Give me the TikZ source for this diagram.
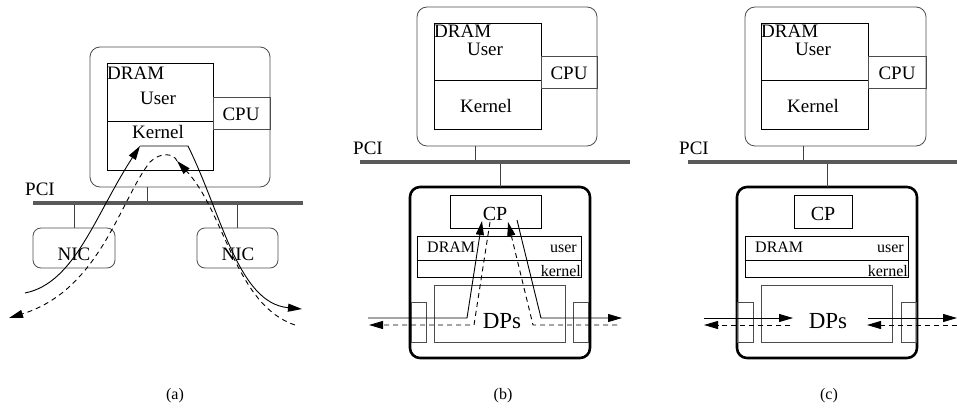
\documentclass[tikz,border=0pt]{standalone}
\usepackage{fontspec}
\setmainfont{Liberation Serif}
\usetikzlibrary{arrows.meta,fit}

\tikzset{
  box/.style={draw=black!70, line width=0.8pt, inner sep=0pt, outer sep=0pt},
  mem/.style={box, draw=black},
  host/.style={box, rounded corners=10pt},
  nic/.style={box, rounded corners=8pt},
  card/.style={draw=black, line width=2.6pt, rounded corners=10pt, inner sep=0pt, outer sep=0pt},
  txt/.style={inner sep=0pt, font=\fontsize{19}{22}\selectfont},
  small/.style={inner sep=0pt, font=\fontsize{16}{18}\selectfont},
  big/.style={inner sep=0pt, font=\fontsize{23}{26}\selectfont},
  bus/.style={line width=4pt, black!65},
  link/.style={line width=0.8pt, black!75},
  flow/.style={line width=0.9pt, -{Triangle[length=14pt,width=8pt]}},
  back/.style={flow, dash pattern=on 5pt off 4pt},
}

\begin{document}
\begin{tikzpicture}[x=1pt,y=-1pt]
  \useasboundingbox (0,0) rectangle (957,409);

  % (a) host with two NICs
  \node[host, fit={(90,47) (270,187)}] (hostA) {};
  \node[mem, fit={(107,63) (213,170)}] (dramA) {};
  \draw[mem] (107,121) -- (213,121);
  \node[box, fit={(213,97) (270,129)}] (cpuA) {};
  \node[txt, anchor=base west] (dramtA) at (107,80) {DRAM};
  \node[txt, anchor=base] (usertA) at (158,105) {User};
  \node[txt, anchor=base] (kerneltA) at (158,138) {Kernel};
  \node[txt, anchor=base] (cputA) at (241,121) {CPU};
  \node[nic, fit={(33,228) (115,268)}] (nicLA) {};
  \node[nic, fit={(197,228) (278,268)}] (nicRA) {};
  \node[txt, anchor=base] (nicLtA) at (74,260) {NIC};
  \node[txt, anchor=base] (nicRtA) at (238,260) {NIC};
  % PCI bus (a)
  \coordinate (pciA1) at (33,203);
  \coordinate (pciA2) at (303,203);
  \coordinate (tapA) at (147,203);
  \draw[link] (tapA) -- (tapA |- hostA.south);
  \draw[link] (nicLA.north) -- (nicLA.north |- pciA1);
  \draw[link] (nicRA.north) -- (nicRA.north |- pciA1);
  \draw[bus] (pciA1) -- (pciA2);
  \node[txt, anchor=base west] (pcitA) at (25,195) {PCI};
  % flows (a)
  \coordinate (inA) at (25,293);
  \coordinate (kinA) at (140,146);
  \coordinate (koutA) at (188,146);
  \coordinate (outA) at (302,309);
  \draw[flow] (inA) .. controls (75,283) and (95,215) .. (kinA);
  \draw[flow] (kinA) -- (koutA) .. controls (222,215) and (238,303) .. (outA);
  \coordinate (rinA) at (295,325);
  \coordinate (topA) at (177,161);
  \coordinate (routA) at (9,318);
  \draw[back] (rinA) .. controls (235,305) and (225,212) .. (topA);
  \draw[back] (topA) .. controls (174,153) and (160,152) .. (150,162)
    .. controls (120,200) and (100,290) .. (routA);

  % (b) host with programmable NIC
  \node[host, fit={(417,7) (597,146)}] (hostB) {};
  \node[mem, fit={(434,23) (541,129)}] (dramB) {};
  \draw[mem] (434,80) -- (541,80);
  \node[box, fit={(541,56) (597,88)}] (cpuB) {};
  \node[txt, anchor=base west] (dramtB) at (434,38) {DRAM};
  \node[txt, anchor=base] (usertB) at (485,56) {User};
  \node[txt, anchor=base] (kerneltB) at (486,113) {Kernel};
  \node[txt, anchor=base] (cputB) at (569,80) {CPU};
  \coordinate (pciB1) at (360,162);
  \coordinate (pciB2) at (630,162);
  \coordinate (tapB1) at (475,162);
  \coordinate (tapB2) at (500,162);
  \node[card, fit={(410,187) (590,358)}] (cardB) {};
  \draw[link] (tapB1) -- (tapB1 |- hostB.south);
  \draw[link] (tapB2) -- (tapB2 |- cardB.north);
  \draw[bus] (pciB1) -- (pciB2);
  \node[txt, anchor=base west] (pcitB) at (353,154) {PCI};
  \node[mem, fit={(450,195) (541,228)}] (cpB) {};
  \node[txt, font=\fontsize{20}{22}\selectfont, anchor=base] (cptB) at (495,220) {CP};
  \node[mem, fit={(417,236) (581,277)}] (nramB) {};
  \draw[mem] (417,260) -- (581,260);
  \node[small, anchor=base west] (nramtB) at (427,252) {DRAM};
  \node[small, anchor=base east] (nusertB) at (577,252) {user};
  \node[small, anchor=base east] (nkerneltB) at (581,276) {kernel};
  \node[box, fit={(434,285) (565,342)}] (dpB) {};
  \node[box, fit={(411,302) (426,342)}] (portLB) {};
  \node[box, fit={(573,302) (588,342)}] (portRB) {};
  \node[big, anchor=base] (dptB) at (502,328) {DPs};
  % flows (b)
  \coordinate (inB) at (368,318);
  \coordinate (outB) at (622,318);
  \coordinate (rinB) at (617,325);
  \coordinate (routB) at (369,325);
  \draw[flow] (inB) -- (467,318) -- (482,221);
  \draw[flow] (517,220) -- (541,318) -- (outB);
  \draw[back] (rinB) -- (533,325) -- (508,222);
  \draw[back] (490,222) -- (474,325) -- (routB);

  % (c) host with programmable NIC, data path only
  \node[host, fit={(745,7) (926,146)}] (hostC) {};
  \node[mem, fit={(761,23) (868,129)}] (dramC) {};
  \draw[mem] (761,80) -- (868,80);
  \node[box, fit={(868,56) (926,88)}] (cpuC) {};
  \node[txt, anchor=base west] (dramtC) at (761,38) {DRAM};
  \node[txt, anchor=base] (usertC) at (813,56) {User};
  \node[txt, anchor=base] (kerneltC) at (813,113) {Kernel};
  \node[txt, anchor=base] (cputC) at (897,80) {CPU};
  \coordinate (pciC1) at (688,162);
  \coordinate (pciC2) at (957,162);
  \coordinate (tapC1) at (803,162);
  \coordinate (tapC2) at (827,162);
  \node[card, fit={(737,187) (917,358)}] (cardC) {};
  \draw[link] (tapC1) -- (tapC1 |- hostC.south);
  \draw[link] (tapC2) -- (tapC2 |- cardC.north);
  \draw[bus] (pciC1) -- (pciC2);
  \node[txt, anchor=base west] (pcitC) at (679,154) {PCI};
  \node[mem, fit={(794,195) (852,228)}] (cpC) {};
  \node[txt, font=\fontsize{20}{22}\selectfont, anchor=base] (cptC) at (823,220) {CP};
  \node[mem, fit={(745,236) (908,277)}] (nramC) {};
  \draw[mem] (745,260) -- (908,260);
  \node[small, anchor=base west] (nramtC) at (755,252) {DRAM};
  \node[small, anchor=base east] (nusertC) at (904,252) {user};
  \node[small, anchor=base east] (nkerneltC) at (908,276) {kernel};
  \node[box, fit={(761,285) (892,342)}] (dpC) {};
  \node[box, fit={(737,302) (753,342)}] (portLC) {};
  \node[box, fit={(901,302) (916,342)}] (portRC) {};
  \node[big, anchor=base] (dptC) at (828,328) {DPs};
  % flows (c)
  \coordinate (inC) at (704,318);
  \coordinate (routC) at (704,325);
  \coordinate (outC) at (957,318);
  \coordinate (rinC) at (957,325);
  \draw[flow] (inC) -- (793,318);
  \draw[back] (790,325) -- (routC);
  \draw[flow] (868,318) -- (outC);
  \draw[back] (rinC) -- (867,325);

  % captions
  \node[small, anchor=base] (capA) at (175,399) {(a)};
  \node[small, anchor=base] (capB) at (503,399) {(b)};
  \node[small, anchor=base] (capC) at (829,399) {(c)};
\end{tikzpicture}
\end{document}
